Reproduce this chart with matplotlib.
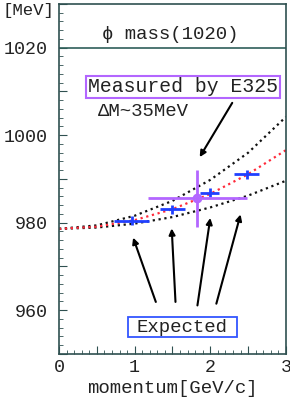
import numpy as np
import matplotlib
matplotlib.use('Agg')
import matplotlib.pyplot as plt
from matplotlib.patches import Rectangle
from matplotlib.ticker import MultipleLocator, FuncFormatter

plt.rcParams['font.family'] = ['Liberation Mono', 'DejaVu Sans Mono']

# expected mass curves
p_curve = [0.0, 0.5, 1.0, 1.5, 2.0, 2.5, 3.0]
m_upper = [978.6, 979.4, 981.6, 985.0, 989.8, 996.0, 1004.2]
m_mid = [978.6, 979.1, 980.6, 983.1, 986.6, 991.1, 996.6]
m_lower = [978.6, 978.9, 979.8, 981.3, 983.5, 986.2, 989.6]

# expected points
p_exp = [0.96, 1.50, 1.99, 2.48]
m_exp = [980.5, 983.1, 986.9, 991.1]
p_exp_err = [0.23, 0.16, 0.13, 0.17]
m_exp_err = [1.0, 1.0, 1.0, 1.0]

# E325 measurement
p_meas = [1.83]
m_meas = [985.6]
p_meas_err = [0.65]
m_meas_err = [6.5]

phi_mass = 1020

# arrows: (tail, head)
arrows_exp = [((1.28, 961.9), (0.98, 976.6)),
              ((1.54, 961.9), (1.49, 978.7)),
              ((1.83, 961.1), (2.00, 981.1)),
              ((2.08, 961.5), (2.40, 981.9))]
arrow_meas = ((2.29, 1007.4), (1.86, 995.0))

fig = plt.figure(figsize=(2.9, 3.99), dpi=100)
ax = fig.add_axes([0.2034, 0.1128, 0.7826, 0.8772])

spine_col = '#2f5050'
txt_col = '#222222'
ax.axhline(phi_mass, color='#2f5f5a', lw=1.2)

ax.plot(p_curve, m_upper, ':', color='#111111', lw=1.6)
ax.plot(p_curve, m_lower, ':', color='#111111', lw=1.6)
ax.plot(p_curve, m_mid, ':', color='#ff2a3a', lw=1.6)

ax.errorbar(p_exp, m_exp, xerr=p_exp_err, yerr=m_exp_err, fmt='none',
            ecolor='#2040ff', elinewidth=2, capsize=0)
ax.errorbar(p_meas, m_meas, xerr=p_meas_err, yerr=m_meas_err, fmt='o',
            color='#b366ff', mfc='none', mew=2, ms=5, elinewidth=2, capsize=0)

for tail, head in arrows_exp + [arrow_meas]:
    ax.annotate('', xy=head, xytext=tail,
                arrowprops=dict(arrowstyle='-|>', color='black', lw=1.5,
                                mutation_scale=9, shrinkA=0, shrinkB=0))

ax.text(1.47, 1023.0, '\u03d5 mass(1020)', fontsize=13.7, ha='center', va='center',
        color=txt_col)
ax.text(1.64, 1011.1, 'Measured by E325', fontsize=14.2, ha='center', va='center',
        color=txt_col,
        bbox=dict(boxstyle='square,pad=0.08', fc='white', ec='#b366ff', lw=1.5))
ax.text(1.11, 1005.5, 'ΔM~35MeV', fontsize=13.7, ha='center', va='center',
        color=txt_col)

# "Expected" label with its frame
ax.add_patch(Rectangle((0.912, 953.9), 1.44, 4.6, fc='white', ec='#3355ff',
                       lw=1.3, zorder=3))
ax.text(1.632, 956.1, 'Expected', fontsize=13.7, ha='center', va='center',
        color=txt_col, zorder=4)

fig.text(28 / 290, 1 - 11 / 399, '[MeV]', fontsize=12.5, ha='center', va='center',
         color=txt_col)

ax.set_xlim(0, 3)
ax.set_ylim(950, 1030)
ax.xaxis.set_major_locator(MultipleLocator(0.5))
ax.xaxis.set_minor_locator(MultipleLocator(0.1))
ax.yaxis.set_major_locator(MultipleLocator(10))
ax.yaxis.set_minor_locator(MultipleLocator(2))
ax.xaxis.set_major_formatter(FuncFormatter(lambda v, _: '%d' % v if abs(v - round(v)) < 1e-6 else ''))
ax.yaxis.set_major_formatter(FuncFormatter(lambda v, _: '%d' % v if int(round(v)) % 20 == 0 and 955 < v < 1025 else ''))
ax.tick_params(which='both', direction='in', top=False, right=False,
               color=spine_col, labelsize=13.2, labelcolor=txt_col)
ax.tick_params(which='major', length=6, width=0.8)
ax.tick_params(which='minor', length=3, width=0.6)
ax.tick_params(axis='y', pad=8)
for s in ax.spines.values():
    s.set_color(spine_col)
    s.set_linewidth(1.2)

ax.set_xlabel('momentum[GeV/c]', fontsize=13.7, color=txt_col, labelpad=3)

fig.savefig('out.png', dpi=100)
